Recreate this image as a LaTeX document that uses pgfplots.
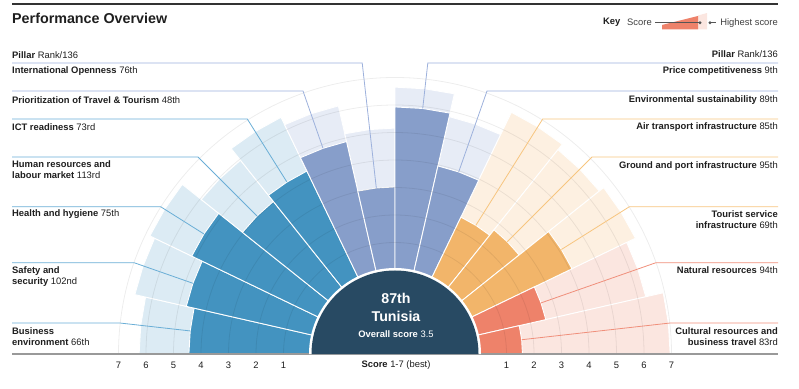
\documentclass[border=0pt]{standalone}
\usepackage{pgfplots}
\pgfplotsset{compat=1.18}
\usepackage{fontspec}
\setmainfont{Liberation Sans}
\definecolor{cb}{HTML}{4393C0}
\definecolor{cbl}{HTML}{DCEBF4}
\definecolor{cbline}{HTML}{6AAED6}
\definecolor{cp}{HTML}{879ECA}
\definecolor{cpl}{HTML}{E7ECF6}
\definecolor{cpline}{HTML}{9DB1DC}
\definecolor{co}{HTML}{F2B56A}
\definecolor{col}{HTML}{FDF0E1}
\definecolor{coline}{HTML}{F7C57F}
\definecolor{cs}{HTML}{EE826A}
\definecolor{csl}{HTML}{FBE6E0}
\definecolor{csline}{HTML}{F08F7B}
\definecolor{navy}{HTML}{284A63}
\definecolor{txt}{HTML}{1E1E1E}
\definecolor{keyline}{HTML}{555555}

% sector: start angle, end angle, score (1-7), fill colour
\newcommand{\sector}[4]{%
  \pgfmathsetmacro{\Rr}{84+27.5*#3}%
  \pgfmathsetmacro{\Mm}{(#1+#2)/2}%
  \edef\doplot{\noexpand\addplot[fill=#4, draw=white, line width=0.9pt, mark=none, data cs=polar] coordinates {(#1,0) (#1,\Rr) (\Mm,\Rr) (#2,\Rr)} -- cycle;}%
  \doplot}
\newcommand{\lab}{\fontsize{9.4}{11}\selectfont}

\begin{document}
\begin{tikzpicture}
\begin{axis}[x=1pt, y=1pt, xmin=-395, xmax=404, ymin=-34, ymax=354,
  hide axis, clip=false]
\path (axis cs:-395,-34) rectangle (axis cs:404,354);
% highest score (background)
\sector{180}{167.142857}{6.25}{cbl}
\sector{167.142857}{154.285714}{6.65}{cbl}
\sector{154.285714}{141.428571}{6.84}{cbl}
\sector{141.428571}{128.571429}{5.96}{cbl}
\sector{128.571429}{115.714286}{6.5}{cbl}
\sector{115.714286}{102.857143}{6.2}{cpl}
\sector{102.857143}{90}{5.16}{cpl}
\sector{90}{77.142857}{6.65}{cpl}
\sector{77.142857}{64.285714}{5.8}{cpl}
\sector{64.285714}{51.428571}{6.7}{col}
\sector{51.428571}{38.571429}{6.45}{col}
\sector{38.571429}{25.714286}{6.65}{col}
\sector{25.714286}{12.857143}{6.3}{csl}
\sector{12.857143}{0}{6.95}{csl}
% scores
\sector{180}{167.142857}{4.44}{cb}
\sector{167.142857}{154.285714}{4.73}{cb}
\sector{154.285714}{141.428571}{5.15}{cb}
\sector{141.428571}{128.571429}{4.04}{cb}
\sector{128.571429}{115.714286}{4.33}{cb}
\sector{115.714286}{102.857143}{4.87}{cp}
\sector{102.857143}{90}{3.02}{cp}
\sector{90}{77.142857}{5.93}{cp}
\sector{77.142857}{64.285714}{3.96}{cp}
\sector{64.285714}{51.428571}{2.47}{co}
\sector{51.428571}{38.571429}{2.72}{co}
\sector{38.571429}{25.714286}{4.09}{co}
\sector{25.714286}{12.857143}{2.57}{cs}
\sector{12.857143}{0}{1.58}{cs}
% grid arcs
\draw[black, opacity=0.07, line width=0.8pt] (axis cs:111.5,0) arc[start angle=0, end angle=180, radius=111.5pt];
\draw[black, opacity=0.07, line width=0.8pt] (axis cs:139,0) arc[start angle=0, end angle=180, radius=139pt];
\draw[black, opacity=0.07, line width=0.8pt] (axis cs:166.5,0) arc[start angle=0, end angle=180, radius=166.5pt];
\draw[black, opacity=0.07, line width=0.8pt] (axis cs:194,0) arc[start angle=0, end angle=180, radius=194pt];
\draw[black, opacity=0.07, line width=0.8pt] (axis cs:221.5,0) arc[start angle=0, end angle=180, radius=221.5pt];
\draw[black, opacity=0.07, line width=0.8pt] (axis cs:249,0) arc[start angle=0, end angle=180, radius=249pt];
\draw[black, opacity=0.07, line width=0.8pt] (axis cs:276.5,0) arc[start angle=0, end angle=180, radius=276.5pt];
% leader lines
\addplot[cbline, line width=0.8pt, mark=none] coordinates {(-383,31) (-275.1,31) (-204.8,23.07)};
\addplot[cbline, line width=0.8pt, mark=none] coordinates {(-383,91.3) (-260.9,91.3) (-202.1,70.71)};
\addplot[cbline, line width=0.8pt, mark=none] coordinates {(-383,147.3) (-234.4,147.3) (-191.0,120.0)};
\addplot[cbline, line width=0.8pt, mark=none] coordinates {(-383,197) (-197,197) (-138.0,138.0)};
\addplot[cbline, line width=0.8pt, mark=none] coordinates {(-383,235) (-147.7,235) (-108.1,172.0)};
\addplot[cpline, line width=0.8pt, mark=none] coordinates {(-383,263) (-92.0,263) (-72.0,205.7)};
\addplot[cpline, line width=0.8pt, mark=none] coordinates {(-383,291) (-32.8,291) (-18.7,166.0)};
\addplot[cpline, line width=0.8pt, mark=none] coordinates {(383,291) (32.8,291) (27.7,245.5)};
\addplot[cpline, line width=0.8pt, mark=none] coordinates {(383,263) (92.0,263) (63.7,182.1)};
\addplot[coline, line width=0.8pt, mark=none] coordinates {(383,235) (147.7,235) (80.8,128.6)};
\addplot[coline, line width=0.8pt, mark=none] coordinates {(383,197) (197,197) (112.3,112.3)};
\addplot[coline, line width=0.8pt, mark=none] coordinates {(383,147.3) (234.4,147.3) (166.4,104.5)};
\addplot[csline, line width=0.8pt, mark=none] coordinates {(383,91.3) (260.9,91.3) (146.0,51.1)};
\addplot[csline, line width=0.8pt, mark=none] coordinates {(383,31) (275.1,31) (126.6,14.27)};
% baseline and top rule
\draw[color=black!40, line width=1.2pt] (axis cs:-383,0) -- (axis cs:383,0);
\draw[color=black!80, line width=2pt] (axis cs:-383,350) -- (axis cs:383,350);
% centre
\fill[white] (axis cs:86,0) arc[start angle=0, end angle=180, radius=86pt] -- cycle;
\fill[navy] (axis cs:83.5,0) arc[start angle=0, end angle=180, radius=83.5pt] -- cycle;
\node[white, font=\fontsize{14.2}{16}\selectfont\bfseries] at (axis cs:1,56) {87th};
\node[white, font=\fontsize{14.2}{16}\selectfont\bfseries] at (axis cs:1,38) {Tunisia};
\node[white, font=\lab] at (axis cs:1,20) {\textbf{Overall score} 3.5};
% title and key
\node[txt, anchor=west, font=\fontsize{14.3}{16}\selectfont\bfseries, inner sep=0pt] at (axis cs:-383,336) {Performance Overview};
\node[txt, anchor=west, font=\lab\bfseries, inner sep=0pt] at (axis cs:208,331.3) {Key};
\node[black!75, anchor=west, font=\lab, inner sep=0pt] at (axis cs:232,331.3) {Score};
\fill[csl] (axis cs:303,324.5) -- (axis cs:312,324.5) -- (axis cs:312,341) -- (axis cs:303,338.5) -- cycle;
\fill[cs] (axis cs:267,324.5) -- (axis cs:303,324.5) -- (axis cs:303,338) -- (axis cs:267,329) -- cycle;
\draw[keyline, line width=0.8pt] (axis cs:260,331.3) -- (axis cs:305,331.3);
\fill[keyline] (axis cs:305,331.3) circle[radius=1.6pt];
\fill[keyline] (axis cs:315,331.3) circle[radius=1.6pt];
\draw[keyline, line width=0.8pt] (axis cs:315,331.3) -- (axis cs:321,331.3);
\node[black!75, anchor=east, font=\lab, inner sep=0pt] at (axis cs:383,331.3) {Highest score};
% headers
\node[txt, anchor=west, font=\lab, inner sep=0pt] at (axis cs:-383,299) {\textbf{Pillar} Rank/136};
\node[txt, anchor=east, font=\lab, inner sep=0pt] at (axis cs:383,300) {\textbf{Pillar} Rank/136};
% left labels
\node[txt, anchor=west, font=\lab, inner sep=0pt] at (axis cs:-383,282.5) {\textbf{International Openness} 76th};
\node[txt, anchor=west, font=\lab, inner sep=0pt] at (axis cs:-383,254) {\textbf{Prioritization of Travel \& Tourism} 48th};
\node[txt, anchor=west, font=\lab, inner sep=0pt] at (axis cs:-383,227) {\textbf{ICT readiness} 73rd};
\node[txt, anchor=west, font=\lab, inner sep=0pt, align=left] at (axis cs:-383,184.5) {\textbf{Human resources and}\\\textbf{labour market} 113rd};
\node[txt, anchor=west, font=\lab, inner sep=0pt] at (axis cs:-383,140) {\textbf{Health and hygiene} 75th};
\node[txt, anchor=west, font=\lab, inner sep=0pt, align=left] at (axis cs:-383,77.5) {\textbf{Safety and}\\\textbf{security} 102nd};
\node[txt, anchor=west, font=\lab, inner sep=0pt, align=left] at (axis cs:-383,17.5) {\textbf{Business}\\\textbf{environment} 66th};
% right labels
\node[txt, anchor=east, font=\lab, inner sep=0pt] at (axis cs:383,283) {\textbf{Price competitiveness} 9th};
\node[txt, anchor=east, font=\lab, inner sep=0pt] at (axis cs:383,254) {\textbf{Environmental sustainability} 89th};
\node[txt, anchor=east, font=\lab, inner sep=0pt] at (axis cs:383,227) {\textbf{Air transport infrastructure} 85th};
\node[txt, anchor=east, font=\lab, inner sep=0pt] at (axis cs:383,188) {\textbf{Ground and port infrastructure} 95th};
\node[txt, anchor=east, font=\lab, inner sep=0pt, align=right] at (axis cs:383,134.5) {\textbf{Tourist service}\\\textbf{infrastructure} 69th};
\node[txt, anchor=east, font=\lab, inner sep=0pt] at (axis cs:383,84) {\textbf{Natural resources} 94th};
\node[txt, anchor=east, font=\lab, inner sep=0pt, align=right] at (axis cs:383,17.5) {\textbf{Cultural resources and}\\\textbf{business travel} 83rd};
% score scale
\node[txt, font=\lab] at (axis cs:-111.5,-11) {1};
\node[txt, font=\lab] at (axis cs:-139,-11) {2};
\node[txt, font=\lab] at (axis cs:-166.5,-11) {3};
\node[txt, font=\lab] at (axis cs:-194,-11) {4};
\node[txt, font=\lab] at (axis cs:-221.5,-11) {5};
\node[txt, font=\lab] at (axis cs:-249,-11) {6};
\node[txt, font=\lab] at (axis cs:-276.5,-11) {7};
\node[txt, font=\lab] at (axis cs:111.5,-11) {1};
\node[txt, font=\lab] at (axis cs:139,-11) {2};
\node[txt, font=\lab] at (axis cs:166.5,-11) {3};
\node[txt, font=\lab] at (axis cs:194,-11) {4};
\node[txt, font=\lab] at (axis cs:221.5,-11) {5};
\node[txt, font=\lab] at (axis cs:249,-11) {6};
\node[txt, font=\lab] at (axis cs:276.5,-11) {7};
\node[txt, font=\lab] at (axis cs:1,-11) {\textbf{Score} 1-7 (best)};
\end{axis}
\end{tikzpicture}
\end{document}
